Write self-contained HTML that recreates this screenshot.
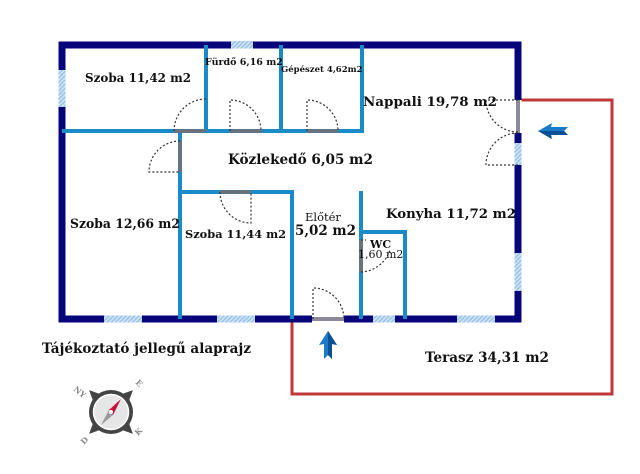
<!DOCTYPE html>
<html><head><meta charset="utf-8"><style>
html,body{margin:0;padding:0;background:#fff;}
svg{display:block;}
text{font-family:"DejaVu Serif","Liberation Serif",serif;font-weight:bold;fill:#111;}
</style></head><body>
<svg width="640" height="474" viewBox="0 0 640 474" xmlns="http://www.w3.org/2000/svg">
<defs>
<pattern id="h" width="3" height="3" patternUnits="userSpaceOnUse" patternTransform="rotate(45)">
<rect width="3" height="3" fill="#cfe3f5"/><rect width="1.2" height="3" fill="#8fbde6"/>
</pattern>
</defs>
<polyline points="518,100 612,100 612,394 292,394 292,319" fill="none" stroke="#c03838" stroke-width="3"/>
<rect x="62" y="45" width="456" height="274" fill="none" stroke="#06067a" stroke-width="7"/>
<rect x="231" y="41" width="22" height="7.5" fill="url(#h)"/>
<rect x="58.5" y="70" width="7" height="37" fill="url(#h)"/>
<rect x="514.5" y="143" width="7" height="22" fill="url(#h)"/>
<rect x="514.5" y="253" width="7" height="38" fill="url(#h)"/>
<rect x="104" y="315.5" width="38" height="7" fill="url(#h)"/>
<rect x="217" y="315.5" width="38" height="7" fill="url(#h)"/>
<rect x="373" y="315.5" width="22" height="7" fill="url(#h)"/>
<rect x="457" y="315.5" width="38" height="7" fill="url(#h)"/>
<rect x="514.5" y="100" width="7" height="33" fill="#fff"/>
<rect x="516" y="100" width="4" height="33" fill="#8a8a9a"/>
<rect x="312" y="315.5" width="32" height="7" fill="#fff"/>
<rect x="312" y="317" width="32" height="4" fill="#8a8a9a"/>
<g stroke="#1b8bc8" stroke-width="4" fill="none">
<line x1="62" y1="131" x2="364" y2="131"/>
<line x1="206" y1="45" x2="206" y2="131"/>
<line x1="281" y1="45" x2="281" y2="131"/>
<line x1="362" y1="45" x2="362" y2="133"/>
<line x1="180" y1="129" x2="180" y2="319"/>
<line x1="178" y1="192" x2="294" y2="192"/>
<line x1="292" y1="190" x2="292" y2="319"/>
<line x1="361" y1="191" x2="361" y2="319"/>
<line x1="359" y1="232" x2="407" y2="232"/>
<line x1="405" y1="230" x2="405" y2="319"/>
</g>
<g stroke="#707078" stroke-width="3.5">
<line x1="174" y1="131" x2="206" y2="131"/>
<line x1="230" y1="131" x2="262" y2="131"/>
<line x1="307" y1="131" x2="338" y2="131"/>
<line x1="180" y1="141" x2="180" y2="172"/>
<line x1="220" y1="192" x2="251" y2="192"/>
<line x1="361" y1="240" x2="361" y2="272"/>
</g>
<g stroke="#333" stroke-width="1.2" stroke-dasharray="2,2" fill="none">
<path d="M174,131 A32,32 0 0 1 206,99"/>
<path d="M230,131 L230,100 A31,31 0 0 1 261,131"/>
<path d="M307,131 L307,100 A31,31 0 0 1 338,131"/>
<path d="M180,141 A31,31 0 0 0 149,172 L180,172"/>
<path d="M220,192 A31,31 0 0 0 251,223 L251,192"/>
<path d="M313,319 L313,288 A31,31 0 0 1 344,319"/>
<path d="M361,240 L366,240 M361,272 A32,32 0 0 0 390,250"/>
<path d="M518,100 L486,100 A32,32 0 0 0 518,132"/>
<path d="M518,165 L486,165 A32,32 0 0 1 518,133"/>
</g>
<path d="M538,131 L552,123 L551,127 L568,127 L564,131 L568,135 L551,135 L552,139 Z" fill="#1a7cc8"/>
<path d="M538,131 L552,139 L551,135 L568,135 L564,131 Z" fill="#0d4f95"/>
<path d="M328,331 L337,345 L332,344 L332,359 L328,355 L324,359 L324,344 L319,345 Z" fill="#1a7cc8"/>
<path d="M328,331 L337,345 L332,344 L332,359 L328,355 Z" fill="#0d4f95"/>
<text x="85" y="82" font-size="12.5" textLength="106" lengthAdjust="spacingAndGlyphs">Szoba 11,42 m2</text>
<text x="205" y="65" font-size="9.5">Fürdő 6,16 m2</text>
<text x="281" y="72" font-size="8.5">Gépészet 4,62m2</text>
<text x="363" y="106" font-size="13" textLength="134" lengthAdjust="spacingAndGlyphs">Nappali 19,78 m2</text>
<text x="228" y="164" font-size="14" textLength="145" lengthAdjust="spacingAndGlyphs">Közlekedő 6,05 m2</text>
<text x="70" y="228" font-size="13" textLength="110" lengthAdjust="spacingAndGlyphs">Szoba 12,66 m2</text>
<text x="185" y="238" font-size="11.5" textLength="101" lengthAdjust="spacingAndGlyphs">Szoba 11,44 m2</text>
<text x="305" y="221" font-size="11.5" style="font-weight:normal">Előtér</text>
<text x="295" y="235" font-size="14" textLength="61" lengthAdjust="spacingAndGlyphs">5,02 m2</text>
<text x="386" y="218" font-size="13" textLength="130" lengthAdjust="spacingAndGlyphs">Konyha 11,72 m2</text>
<text x="370" y="248" font-size="11">WC</text>
<text x="358" y="258" font-size="11" style="font-weight:normal">1,60 m2</text>
<text x="425" y="362" font-size="13.5" textLength="124" lengthAdjust="spacingAndGlyphs">Terasz 34,31 m2</text>
<text x="42" y="353" font-size="13.5" textLength="209" lengthAdjust="spacingAndGlyphs">Tájékoztató jellegű alaprajz</text>
<g transform="translate(111,412)">
<g fill="#444">
<polygon points="0,-31 -6,-18 6,-18" transform="rotate(45)"/>
<polygon points="0,-31 -6,-18 6,-18" transform="rotate(135)"/>
<polygon points="0,-31 -6,-18 6,-18" transform="rotate(225)"/>
<polygon points="0,-31 -6,-18 6,-18" transform="rotate(315)"/>
</g>
<circle r="22" fill="#444"/>
<circle r="17.5" fill="#e6e6e6" stroke="#fff" stroke-width="1.5"/>
<polygon points="10,-13 2,3 -2,-2" fill="#c8103e"/>
<polygon points="-10,13 -2,-2 2,3" fill="#9a9a9a"/>
<circle r="2" fill="#fff"/>
<g font-size="8">
<text x="-38" y="-22" transform="rotate(40 -38 -22)" style="fill:#888">NY</text>
<text x="24" y="-29" transform="rotate(45 24 -29)" style="fill:#888">E</text>
<text x="-27" y="33" transform="rotate(-45 -27 33)" style="fill:#888">D</text>
<text x="27" y="24" transform="rotate(-45 27 24)" style="fill:#888">K</text>
</g>
</g>
</svg>
</body></html>
